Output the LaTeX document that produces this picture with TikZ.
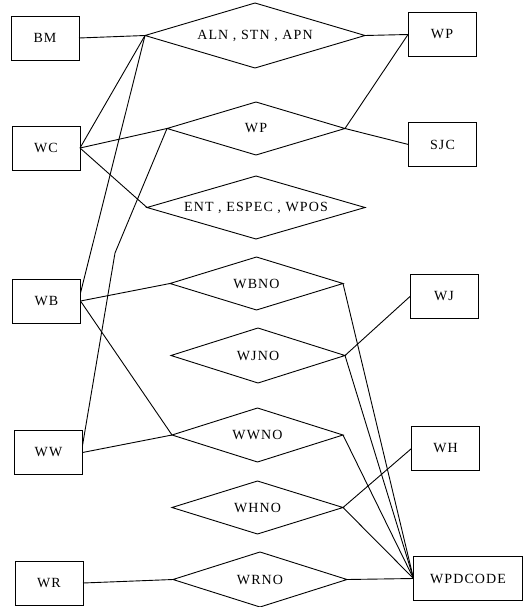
\documentclass[tikz,border=0pt]{standalone}
\usepackage{fontspec}
\setmainfont{Liberation Serif}[LetterSpace=8]
\usetikzlibrary{shapes.geometric}
\tikzset{
  ent/.style={draw, rectangle, line width=0.9pt, minimum width=68pt, minimum height=44pt,
    inner sep=0pt, outer sep=0pt, font=\fontsize{14}{16}\selectfont},
  rel/.style n args={3}{draw, diamond, line width=0.9pt, inner sep=0pt, outer sep=0pt,
    minimum width=#1pt, minimum height=#2pt, aspect=#3,
    font=\fontsize{14}{16}\selectfont},
  conn/.style={line width=0.9pt}
}
\begin{document}
\begin{tikzpicture}[x=1pt,y=-1pt]
\useasboundingbox (0,0) rectangle (523,607);
% entities
\node[ent] (BM) at (45,38) {BM};
\node[ent] (WPb) at (442,34.5) {WP};
\node[ent] (WC) at (46,148) {WC};
\node[ent] (SJC) at (442.5,144.5) {SJC};
\node[ent] (WB) at (46.5,301) {WB};
\node[ent] (WJ) at (444,296.5) {WJ};
\node[ent] (WW) at (48.5,452.5) {WW};
\node[ent] (WH) at (445.5,448.5) {WH};
\node[ent] (WR) at (49,583) {WR};
\node[ent, minimum width=109pt] (WPD) at (468,578.5) {WPDCODE};
% relationships
\node[rel={220}{65}{3.38}] (ALN) at (255,35.5) {ALN , STN , APN};
\node[rel={178}{53}{3.36}] (WPd) at (256,128.5) {WP};
\node[rel={218}{63}{3.46}] (ENT) at (256,207.5) {ENT , ESPEC , WPOS};
\node[rel={173}{53}{3.26}] (WBNO) at (256.5,283.5) {WBNO};
\node[rel={174}{55}{3.16}] (WJNO) at (258,355.5) {WJNO};
\node[rel={171}{54}{3.17}] (WWNO) at (257.5,435) {WWNO};
\node[rel={171}{53}{3.23}] (WHNO) at (257.5,507.5) {WHNO};
\node[rel={174}{55}{3.16}] (WRNO) at (260,579.5) {WRNO};
\coordinate (bend) at (115,253);
% connectors
\draw[conn] (BM.east) -- (ALN.west);
\draw[conn] (ALN.east) -- (WPb.west);
\draw[conn] (WC.east) -- (ALN.west);
\draw[conn] ([yshift=8pt]WB.east) -- (ALN.west);
\draw[conn] (WC.east) -- (WPd.west);
\draw[conn] (WC.east) -- (ENT.west);
\draw[conn] ([yshift=7pt]WW.east) -- (bend) -- (WPd.west);
\draw[conn] (WPd.east) -- (SJC.west);
\draw[conn] (WPd.east) -- (WPb.west);
\draw[conn] (WB.east) -- (WBNO.west);
\draw[conn] (WB.east) -- (WWNO.west);
\draw[conn] (WW.east) -- (WWNO.west);
\draw[conn] (WJ.west) -- (WJNO.east);
\draw[conn] (WH.west) -- (WHNO.east);
\draw[conn] (WR.east) -- (WRNO.west);
\draw[conn] (WRNO.east) -- (WPD.west);
\draw[conn] (WBNO.east) -- (WPD.west);
\draw[conn] (WJNO.east) -- (WPD.west);
\draw[conn] (WWNO.east) -- (WPD.west);
\draw[conn] (WHNO.east) -- (WPD.west);
\end{tikzpicture}
\end{document}
